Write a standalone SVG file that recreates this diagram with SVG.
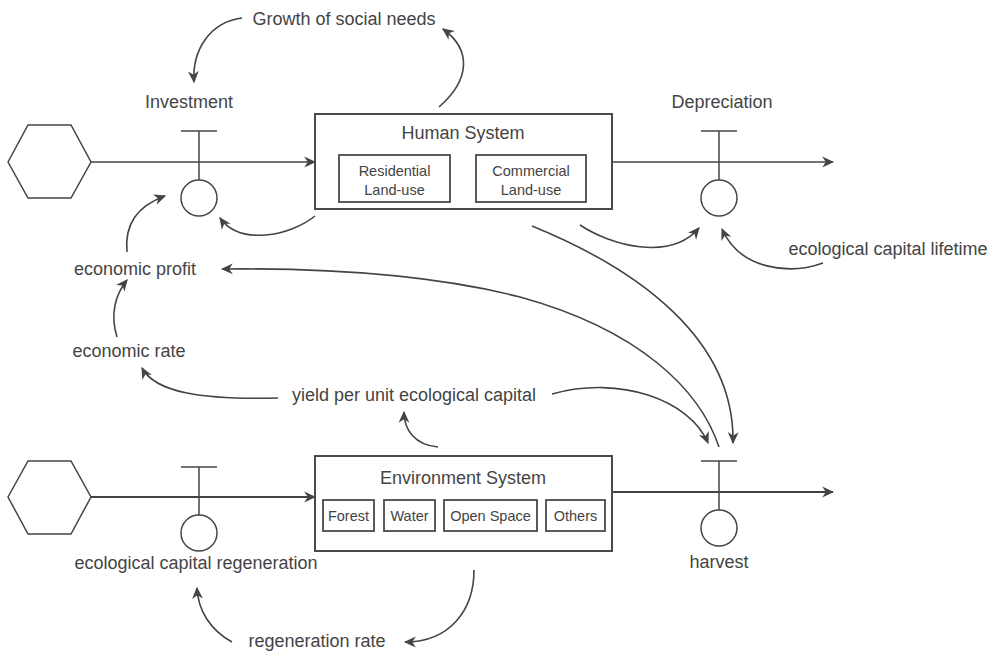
<svg xmlns="http://www.w3.org/2000/svg" width="1000" height="653" viewBox="0 0 1000 653">
<style>
.t{font-family:"Liberation Sans",Arial,sans-serif;font-size:18px;fill:#444;text-anchor:middle}
.s{font-family:"Liberation Sans",Arial,sans-serif;font-size:14.5px;fill:#444;text-anchor:middle}
.box{fill:#fff;stroke:#4a4a4a;stroke-width:2}
.sub{fill:#fff;stroke:#4a4a4a;stroke-width:1.8}
.ln{fill:none;stroke:#444;stroke-width:1.5}
.cv{fill:none;stroke:#444;stroke-width:1.6;marker-end:url(#ah)}
.fl{fill:none;stroke:#444;stroke-width:1.5;marker-end:url(#ah)}
.fl2{fill:none;stroke:#444;stroke-width:2;marker-end:url(#ah)}
</style>
<defs>
<marker id="ah" viewBox="0 0 10 10" refX="9" refY="5" markerWidth="12" markerHeight="12" markerUnits="userSpaceOnUse" orient="auto">
<path d="M0,0.5 L10,5 L0,9.5 L3,5 z" fill="#444"/>
</marker>
</defs>
<rect width="1000" height="653" fill="#fff"/>

<g id="connectors">
<path class="fl" d="M91,162 L315,162"/>
<path class="fl" d="M612,162 L833,162"/>
<path class="fl2" d="M91,497 L315,497"/>
<path class="fl2" d="M612,492 L833,492"/>
<path class="cv" d="M242,18 C210,22 192,50 194,82"/>
<path class="cv" d="M439,107 C470,80 472,50 443,29"/>
<path class="cv" d="M315,216 C290,236 240,246 220,218"/>
<path class="cv" d="M127,252 C124,222 140,205 165,196"/>
<path class="cv" d="M117,337 C110,315 115,295 127,280"/>
<path class="cv" d="M719,447 C700,390 640,330 520,297 C430,274 320,268 222,269"/>
<path class="cv" d="M278,398 C200,400 155,392 142,368"/>
<path class="cv" d="M438,447 C415,445 404,430 404,412"/>
<path class="cv" d="M552,394 C620,375 690,400 708,443"/>
<path class="cv" d="M532,226 C640,270 735,340 733,443"/>
<path class="cv" d="M580,225 C610,245 670,262 699,228"/>
<path class="cv" d="M823,263 C790,275 740,270 722,229"/>
<path class="cv" d="M474,570 C474,610 450,642 405,642"/>
<path class="cv" d="M232,642 C210,630 198,610 197,588"/>
</g>

<g id="source-top">
<polygon class="ln" points="8,162 28,125 71,125 91,162 71,198 28,198"/>
</g>
<g id="source-bottom">
<polygon class="ln" points="8,497 28,461 71,461 91,497 71,534 28,534"/>
</g>

<g id="valve-investment">
<line class="ln" x1="181" y1="131" x2="217" y2="131"/>
<line class="ln" x1="199" y1="131" x2="199" y2="180"/>
<circle class="ln" cx="199" cy="198" r="18"/>
<text class="t" x="189" y="108">Investment</text>
</g>

<g id="valve-depreciation">
<line class="ln" x1="701" y1="131" x2="737" y2="131"/>
<line class="ln" x1="719" y1="131" x2="719" y2="180"/>
<circle class="ln" cx="719" cy="198" r="18"/>
<text class="t" x="722" y="108">Depreciation</text>
</g>

<g id="valve-regeneration">
<line class="ln" x1="181" y1="467" x2="217" y2="467"/>
<line class="ln" x1="199" y1="467" x2="199" y2="515"/>
<circle class="ln" cx="199" cy="533" r="18"/>
<text class="t" x="196" y="569">ecological capital regeneration</text>
</g>

<g id="valve-harvest">
<line class="ln" x1="701" y1="461" x2="737" y2="461"/>
<line class="ln" x1="719" y1="461" x2="719" y2="510"/>
<circle class="ln" cx="719" cy="528" r="18"/>
<text class="t" x="719" y="568">harvest</text>
</g>

<g id="human-system">
<rect class="box" x="315" y="114" width="297" height="95"/>
<text class="t" x="463" y="139">Human System</text>
<rect class="sub" x="339" y="155" width="111" height="47"/>
<text class="s" x="394.5" y="176">Residential</text>
<text class="s" x="394.5" y="195">Land-use</text>
<rect class="sub" x="476" y="155" width="110" height="47"/>
<text class="s" x="531" y="176">Commercial</text>
<text class="s" x="531" y="195">Land-use</text>
</g>

<g id="environment-system">
<rect class="box" x="315" y="456" width="297" height="95"/>
<text class="t" x="463" y="484">Environment System</text>
<rect class="sub" x="323" y="500" width="51" height="31"/>
<text class="s" x="348.5" y="521">Forest</text>
<rect class="sub" x="384" y="500" width="51" height="31"/>
<text class="s" x="409.5" y="521">Water</text>
<rect class="sub" x="444" y="500" width="93" height="31"/>
<text class="s" x="490.5" y="521">Open Space</text>
<rect class="sub" x="546" y="500" width="59" height="31"/>
<text class="s" x="575.5" y="521">Others</text>
</g>

<g id="growth-social-needs"><text class="t" x="344" y="25">Growth of social needs</text></g>
<g id="economic-profit"><text class="t" x="135" y="275">economic profit</text></g>
<g id="economic-rate"><text class="t" x="129" y="357">economic rate</text></g>
<g id="yield"><text class="t" x="414" y="401">yield per unit ecological capital</text></g>
<g id="lifetime"><text class="t" x="888" y="255">ecological capital lifetime</text></g>
<g id="regeneration-rate"><text class="t" x="317" y="647">regeneration rate</text></g>
</svg>
